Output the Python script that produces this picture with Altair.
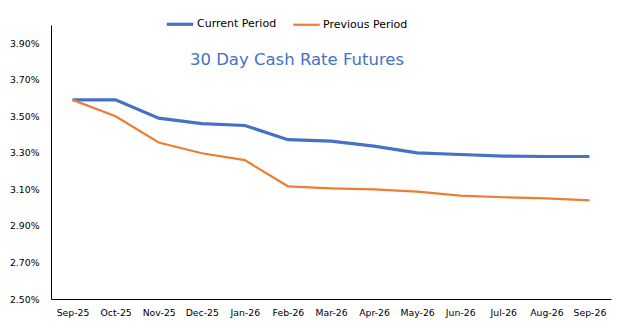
import altair as alt
import pandas as pd

months = ["Sep-25", "Oct-25", "Nov-25", "Dec-25", "Jan-26", "Feb-26", "Mar-26",
          "Apr-26", "May-26", "Jun-26", "Jul-26", "Aug-26", "Sep-26"]
current = [3.59, 3.59, 3.49, 3.46, 3.45, 3.372, 3.364, 3.337, 3.30, 3.291, 3.282, 3.28, 3.28]
previous = [3.59, 3.50, 3.357, 3.298, 3.26, 3.117, 3.106, 3.10, 3.088, 3.066, 3.057, 3.051, 3.04]
series_names = ["Current Period", "Previous Period"]
colors = ["#4472C4", "#ED7D31"]
widths = [3.2, 2.2]
y_ticks = [0.025, 0.027, 0.029, 0.031, 0.033, 0.035, 0.037, 0.039]

rows = []
for m, c, p in zip(months, current, previous):
    rows.append({"month": m, "series": series_names[0], "rate": c / 100})
    rows.append({"month": m, "series": series_names[1], "rate": p / 100})
df = pd.DataFrame(rows)

font = "DejaVu Sans"

chart = alt.Chart(df).mark_line(interpolate="linear").encode(
    x=alt.X("month:O", sort=months, scale=alt.Scale(type="point", padding=0.5),
            axis=alt.Axis(title=None, labelAngle=0, ticks=False, domainColor="black",
                          labelFont=font, labelFontSize=9.3, labelColor="#000000",
                          labelPadding=9)),
    y=alt.Y("rate:Q", scale=alt.Scale(domain=[0.025, 0.04], nice=False, zero=False),
            axis=alt.Axis(title=None, format=".2%", values=y_ticks, grid=False, ticks=False,
                          domainColor="black", labelFont=font, labelFontSize=9.3,
                          labelColor="#000000", labelPadding=12)),
    color=alt.Color("series:N", scale=alt.Scale(domain=series_names, range=colors),
                    legend=alt.Legend(title=None, orient="none", legendX=114, legendY=-16,
                                      direction="horizontal", symbolType="stroke",
                                      symbolSize=700, symbolStrokeWidth=3,
                                      labelFont=font, labelFontSize=11, labelColor="#000000",
                                      columnPadding=11, labelOffset=2)),
    strokeWidth=alt.StrokeWidth("series:N", scale=alt.Scale(domain=series_names, range=widths),
                                legend=None),
).properties(
    width=560, height=274,
    title=alt.TitleParams("30 Day Cash Rate Futures", color="#4472C4", font=font,
                          fontSize=16.5, fontWeight="normal", anchor="middle", dx=-34, dy=63),
    padding={"left": 51, "top": 25, "right": 7, "bottom": 31},
    autosize=alt.AutoSizeParams(type="none"),
).configure_view(stroke=None)

chart.save("out.html", embed_options={"renderer": "svg", "actions": False})
